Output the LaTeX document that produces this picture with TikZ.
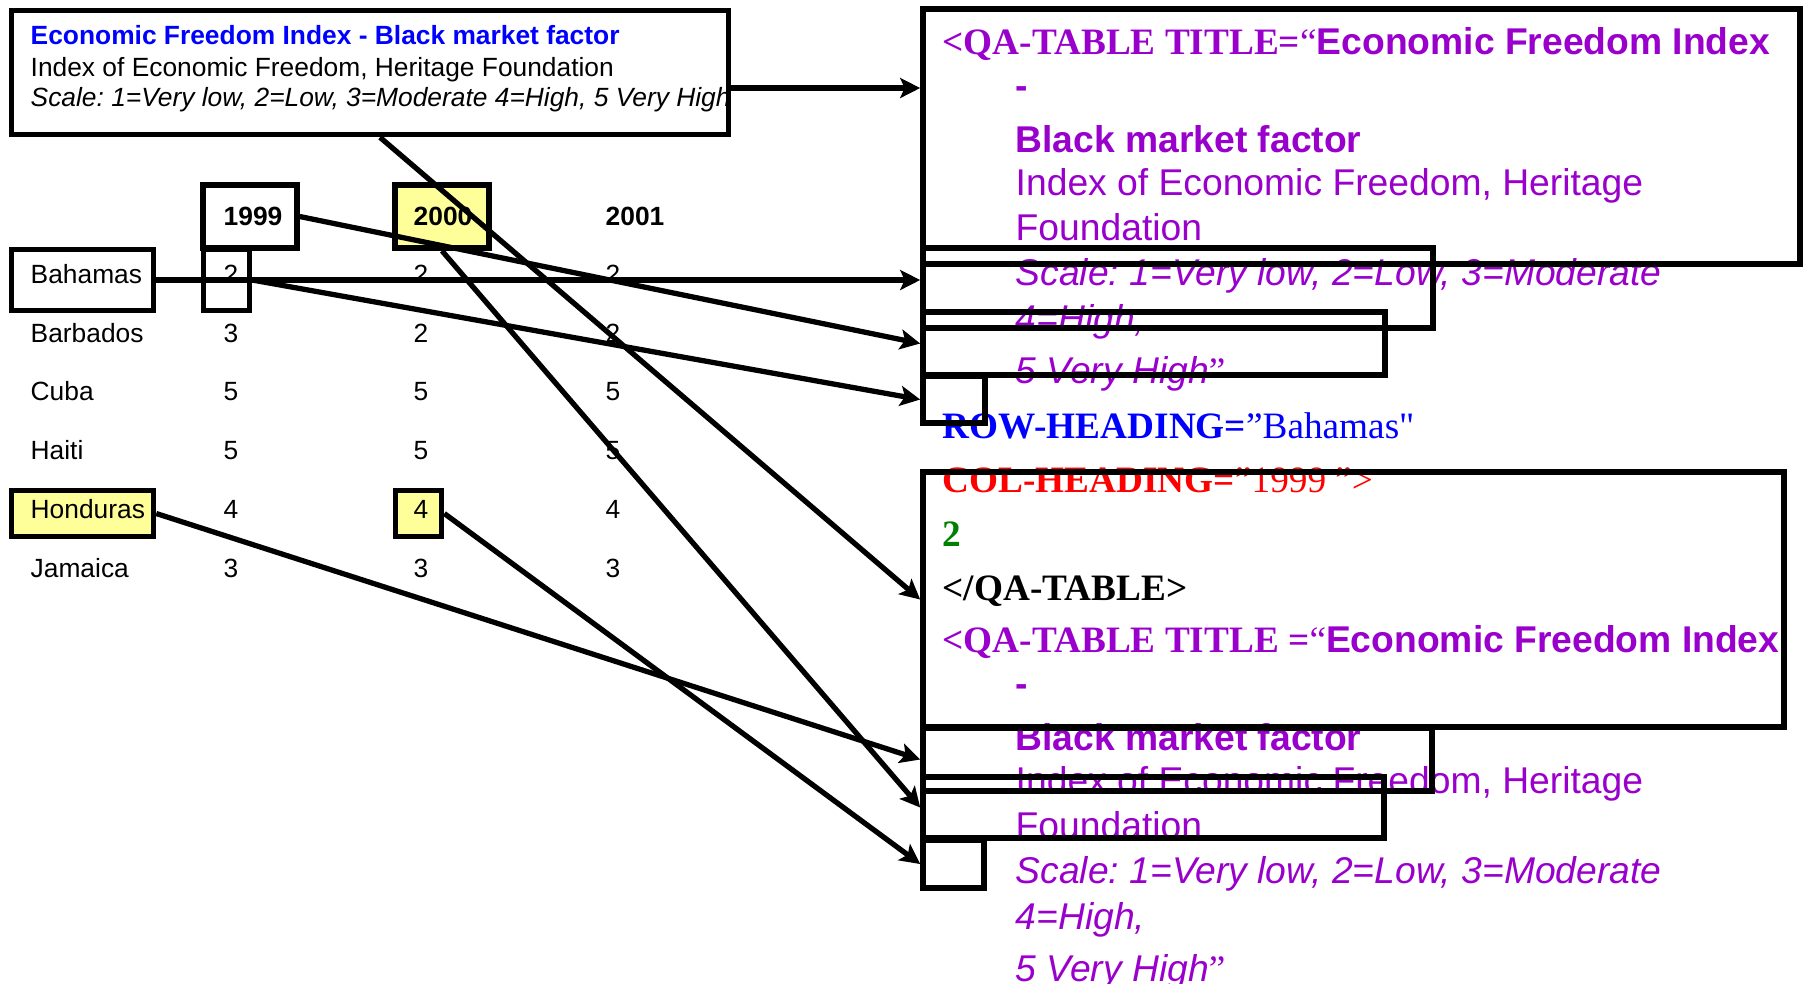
\documentclass[tikz,border=0pt]{standalone}
\usepackage{fontspec}
\setmainfont{Liberation Sans}
\newfontfamily\xmlserif{Liberation Serif}
\usepackage{xcolor}
\usetikzlibrary{arrows.meta,calc}
\definecolor{hlyellow}{HTML}{FFFF99}
\definecolor{qapurple}{HTML}{9900CC}
\definecolor{qablue}{HTML}{0000FF}
\definecolor{qared}{HTML}{FF0000}
\definecolor{qagreen}{HTML}{008000}
\newcommand{\tabfont}{\fontsize{7.5}{9}\selectfont}
\newcommand{\qafont}{\fontsize{10.6}{12.7}\selectfont}
\frenchspacing

\begin{document}
\begin{tikzpicture}[
    frame/.style={draw, line width=1.6pt, inner sep=0pt},
    hlframe/.style={frame, fill=hlyellow},
    tabtext/.style={anchor=base west, inner sep=0pt, font=\tabfont},
    qatext/.style={anchor=base west, inner sep=0pt, font=\qafont, qapurple},
    link/.style={line width=1.5pt, -{Stealth[length=0.2cm, width=0.2cm, inset=0.045cm]}}
]
\useasboundingbox (0,0) rectangle (18.08,-9.83);
% Source table frames
\node[frame, minimum width=7.17cm, minimum height=1.24cm] (title) at (3.70,-0.725) {};
\node[frame, minimum width=0.94cm, minimum height=0.63cm] (yr1999) at (2.50,-2.165) {};
\node[hlframe, minimum width=0.94cm, minimum height=0.63cm] (yr2000) at (4.42,-2.165) {};
\node[frame, minimum width=1.42cm, minimum height=0.61cm] (rowBah) at (0.825,-2.80) {};
\node[frame, minimum width=0.46cm, minimum height=0.61cm] (cellBah) at (2.265,-2.80) {};
\node[hlframe, minimum width=1.42cm, minimum height=0.46cm] (rowHon) at (0.825,-5.135) {};
\node[hlframe, minimum width=0.46cm, minimum height=0.46cm] (cellHon) at (4.185,-5.135) {};
% Table title
\node[tabtext, font=\tabfont\bfseries, qablue] (title-l1) at (0.30,-0.44) {Economic Freedom Index - Black market factor};
\node[tabtext] (title-l2) at (0.30,-0.76) {Index of Economic Freedom, Heritage Foundation};
\node[tabtext, font=\tabfont\itshape] (title-l3) at (0.30,-1.06) {Scale: 1=Very low, 2=Low, 3=Moderate 4=High, 5 Very High};
% Column headings
\foreach \yr/\x in {1999/2.23, 2000/4.13, 2001/6.05}
    \node[tabtext, font=\tabfont\bfseries] (hd-\yr) at (\x,-2.25) {\yr};
% Rows
\foreach \y/\name/\va/\vb/\vc in {2.83/Bahamas/2/2/2, 3.42/Barbados/3/2/2, 4.00/Cuba/5/5/5, 4.59/Haiti/5/5/5, 5.18/Honduras/4/4/4, 5.77/Jamaica/3/3/3} {
    \node[tabtext] (lbl-\name) at (0.30,-\y) {\name};
    \node[tabtext] (a-\name) at (2.23,-\y) {\va};
    \node[tabtext] (b-\name) at (4.13,-\y) {\vb};
    \node[tabtext] (c-\name) at (6.05,-\y) {\vc};
}
% QA-TABLE markup
\foreach \dy/\titleeq [count=\k] in {0/{TITLE=}, 5.98/{TITLE =}} {
    \node[qatext] (qa\k-title) at (9.42,{-0.54-\dy}) {{\xmlserif\bfseries <QA-TABLE \titleeq}{\xmlserif “}\textbf{Economic Freedom Index}};
    \node[qatext, font=\qafont\bfseries] (qa\k-dash) at (10.15,{-0.98-\dy}) {-};
    \node[qatext, font=\qafont\bfseries] (qa\k-name) at (10.15,{-1.52-\dy}) {Black market factor};
    \node[qatext] (qa\k-src) at (10.15,{-1.95-\dy}) {Index of Economic Freedom, Heritage};
    \node[qatext] (qa\k-found) at (10.15,{-2.40-\dy}) {Foundation};
    \node[qatext, font=\qafont\itshape] (qa\k-scale) at (10.15,{-2.85-\dy}) {Scale: 1=Very low, 2=Low, 3=Moderate};
    \node[qatext, font=\qafont\itshape] (qa\k-high) at (10.15,{-3.31-\dy}) {4=High,};
    \node[qatext, font=\qafont\itshape] (qa\k-vhigh) at (10.15,{-3.83-\dy}) {5 Very High{\upshape\xmlserif ”}};
}
\node[qatext, qablue] (qa-row) at (9.42,-4.38) {{\xmlserif\bfseries ROW-HEADING=}{\xmlserif ”Bahamas"}};
\node[qatext, qared] (qa-col) at (9.42,-4.92) {{\xmlserif\bfseries COL-HEADING=}{\xmlserif ”1999 ”>}};
\node[qatext, qagreen, font=\qafont\xmlserif\bfseries] (qa-val) at (9.42,-5.46) {2};
\node[qatext, black, font=\qafont\xmlserif\bfseries] (qa-end) at (9.42,-6.00) {</QA-TABLE>};
% Target frames
\node[frame, minimum width=8.77cm, minimum height=2.55cm] (qaTitle) at (13.615,-1.365) {};
\node[frame, minimum width=5.10cm, minimum height=0.80cm] (qaRow) at (11.78,-2.88) {};
\node[frame, minimum width=4.62cm, minimum height=0.63cm] (qaCol) at (11.54,-3.435) {};
\node[frame, minimum width=0.62cm, minimum height=0.47cm] (qaVal) at (9.54,-3.995) {};
\node[frame, minimum width=8.61cm, minimum height=2.55cm] (qbTitle) at (13.535,-5.995) {};
\node[frame, minimum width=5.09cm, minimum height=0.63cm] (qbRow) at (11.775,-7.595) {};
\node[frame, minimum width=4.61cm, minimum height=0.61cm] (qbCol) at (11.535,-8.075) {};
\node[frame, minimum width=0.61cm, minimum height=0.48cm] (qbVal) at (9.535,-8.64) {};
% Links
\coordinate (titleout) at ([yshift=-0.155cm]title.east);
\draw[link] (titleout) -- (titleout -| qaTitle.west);
\draw[link] (rowBah.east) -- (rowBah.east -| qaRow.west);
\draw[link] (yr1999.east) -- (qaCol.west);
\draw[link] (cellBah.east) -- (qaVal.west);
\draw[link] ([xshift=0.1cm]title.south) -- (qbTitle.west);
\draw[link] (yr2000.south) -- (qbCol.west);
\draw[link] (rowHon.east) -- (qbRow.west);
\draw[link] (cellHon.east) -- (qbVal.west);
\end{tikzpicture}
\end{document}
